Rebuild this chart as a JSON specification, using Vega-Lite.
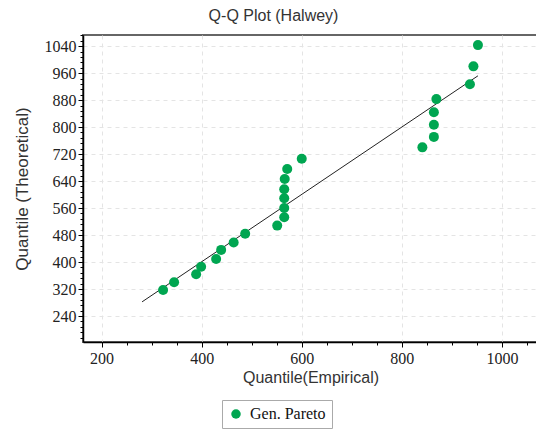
{
  "$schema": "https://vega.github.io/schema/vega-lite/v6.json",
  "width": 455,
  "height": 307,
  "autosize": {"type": "none"},
  "padding": {"left": 83, "top": 35, "right": 0, "bottom": 87},
  "background": "white",
  "title": {
    "text": "Q-Q Plot (Halwey)",
    "font": "Liberation Sans",
    "fontSize": 16,
    "fontWeight": "normal",
    "color": "#333",
    "anchor": "middle",
    "dx": -37,
    "offset": 3
  },
  "config": {
    "view": {"stroke": "#666", "strokeWidth": 2}
  },
  "datasets": {
    "points": [
      {"empirical": 323, "theoretical": 317, "series": "Gen. Pareto"},
      {"empirical": 345, "theoretical": 340, "series": "Gen. Pareto"},
      {"empirical": 389, "theoretical": 364, "series": "Gen. Pareto"},
      {"empirical": 399, "theoretical": 386, "series": "Gen. Pareto"},
      {"empirical": 429, "theoretical": 409, "series": "Gen. Pareto"},
      {"empirical": 439, "theoretical": 436, "series": "Gen. Pareto"},
      {"empirical": 464, "theoretical": 458, "series": "Gen. Pareto"},
      {"empirical": 487, "theoretical": 484, "series": "Gen. Pareto"},
      {"empirical": 551, "theoretical": 508, "series": "Gen. Pareto"},
      {"empirical": 565, "theoretical": 533, "series": "Gen. Pareto"},
      {"empirical": 565, "theoretical": 560, "series": "Gen. Pareto"},
      {"empirical": 565, "theoretical": 589, "series": "Gen. Pareto"},
      {"empirical": 565, "theoretical": 616, "series": "Gen. Pareto"},
      {"empirical": 566, "theoretical": 646, "series": "Gen. Pareto"},
      {"empirical": 571, "theoretical": 676, "series": "Gen. Pareto"},
      {"empirical": 600, "theoretical": 706, "series": "Gen. Pareto"},
      {"empirical": 841, "theoretical": 740, "series": "Gen. Pareto"},
      {"empirical": 864, "theoretical": 771, "series": "Gen. Pareto"},
      {"empirical": 864, "theoretical": 807, "series": "Gen. Pareto"},
      {"empirical": 864, "theoretical": 844, "series": "Gen. Pareto"},
      {"empirical": 869, "theoretical": 883, "series": "Gen. Pareto"},
      {"empirical": 936, "theoretical": 927, "series": "Gen. Pareto"},
      {"empirical": 943, "theoretical": 980, "series": "Gen. Pareto"},
      {"empirical": 952, "theoretical": 1043, "series": "Gen. Pareto"}
    ],
    "line": [
      {"empirical": 281, "theoretical": 282},
      {"empirical": 952, "theoretical": 952}
    ]
  },
  "encoding": {
    "x": {
      "field": "empirical",
      "type": "quantitative",
      "scale": {"domain": [163, 1072], "nice": false, "zero": false},
      "axis": {
        "title": "Quantile(Empirical)",
        "titleFont": "Liberation Sans",
        "titleFontSize": 16,
        "titleFontWeight": "normal",
        "titleColor": "#333",
        "titlePadding": 3,
        "values": [200, 250, 300, 350, 400, 450, 500, 550, 600, 650, 700, 750, 800, 850, 900, 950, 1000, 1050],
        "labelExpr": "datum.value % 200 === 0 ? datum.label : ''",
        "format": "d",
        "labelFont": "Liberation Serif",
        "labelFontSize": 16,
        "labelColor": "#222",
        "labelPadding": 3,
        "labelFlush": false,
        "labelOverlap": false,
        "domainColor": "#000",
        "domainWidth": 1.5,
        "tickColor": "#000",
        "tickSize": {"condition": {"test": "datum.value % 200 === 0", "value": 5}, "value": 3},
        "grid": true,
        "gridColor": "#e4e4e4",
        "gridDash": [4, 4],
        "gridOpacity": {"condition": {"test": "datum.value % 200 === 0", "value": 1}, "value": 0}
      }
    },
    "y": {
      "field": "theoretical",
      "type": "quantitative",
      "scale": {"domain": [163, 1073], "nice": false, "zero": false},
      "axis": {
        "title": "Quantile (Theoretical)",
        "titleFont": "Liberation Sans",
        "titleFontSize": 17,
        "titleFontWeight": "normal",
        "titleColor": "#333",
        "titlePadding": 13,
        "values": [176, 192, 208, 224, 240, 256, 272, 288, 304, 320, 336, 352, 368, 384, 400, 416, 432, 448, 464, 480, 496, 512, 528, 544, 560, 576, 592, 608, 624, 640, 656, 672, 688, 704, 720, 736, 752, 768, 784, 800, 816, 832, 848, 864, 880, 896, 912, 928, 944, 960, 976, 992, 1008, 1024, 1040, 1056, 1072],
        "labelExpr": "datum.value % 80 === 0 ? datum.label : ''",
        "format": "d",
        "labelFont": "Liberation Serif",
        "labelFontSize": 16,
        "labelColor": "#222",
        "labelPadding": 2,
        "labelFlush": false,
        "labelOverlap": false,
        "domainColor": "#000",
        "domainWidth": 1.5,
        "tickColor": "#000",
        "tickSize": {"condition": {"test": "datum.value % 80 === 0", "value": 5}, "value": 3},
        "grid": true,
        "gridColor": "#e4e4e4",
        "gridDash": [4, 4],
        "gridOpacity": {"condition": {"test": "datum.value % 80 === 0", "value": 1}, "value": 0}
      }
    }
  },
  "layer": [
    {
      "data": {"name": "line"},
      "mark": {"type": "line", "color": "#222", "strokeWidth": 1},
      "encoding": {}
    },
    {
      "data": {"name": "points"},
      "mark": {"type": "point", "filled": true, "shape": "circle", "size": 100, "opacity": 1},
      "encoding": {
        "color": {
          "field": "series",
          "type": "nominal",
          "scale": {"range": ["#00a651"]},
          "legend": {
            "title": null,
            "orient": "none",
            "legendX": 139,
            "legendY": 365,
            "direction": "horizontal",
            "strokeColor": "#aaa",
            "padding": 6,
            "symbolType": "circle",
            "symbolSize": 90,
            "symbolStrokeWidth": 0,
            "labelFont": "Liberation Serif",
            "labelFontSize": 16,
            "labelColor": "#111",
            "labelOffset": 6
          }
        }
      }
    }
  ]
}
